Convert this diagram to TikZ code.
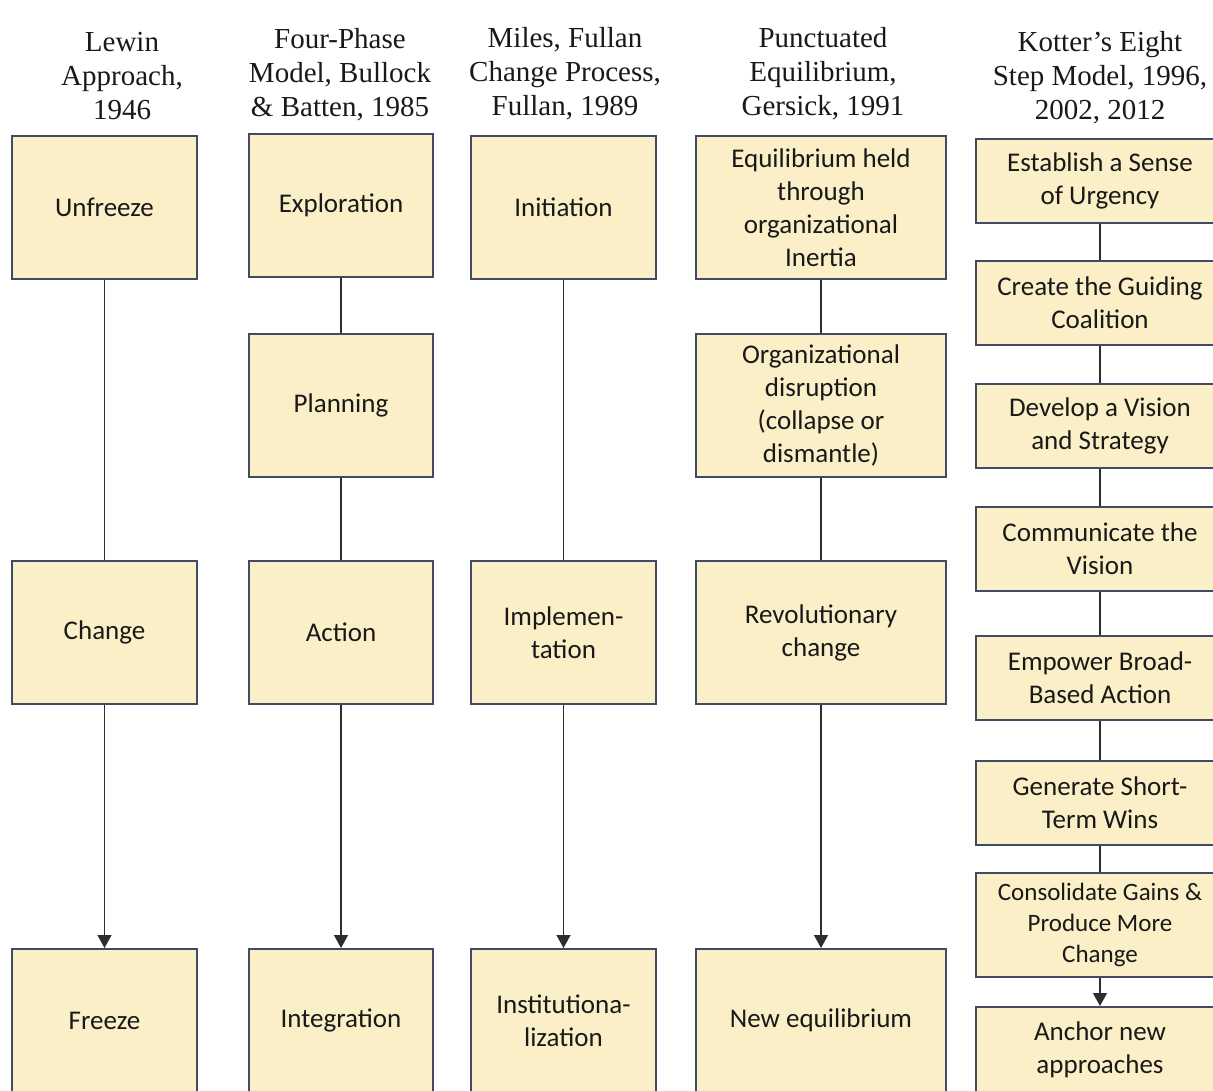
\documentclass[tikz,border=0pt]{standalone}
\usepackage{fontspec}
\setmainfont{Liberation Serif}
\newfontfamily\boxfont{Carlito}
\usetikzlibrary{arrows.meta}
\definecolor{boxfill}{HTML}{FBEFC7}
\definecolor{boxline}{HTML}{434A63}
\definecolor{conn}{HTML}{2E2E2E}
\begin{document}
\begin{tikzpicture}[x=1pt,y=-1pt,
  box/.style={draw=boxline, fill=boxfill, line width=2pt, inner sep=0pt, align=center,
    font=\boxfont\fontsize{27}{33}\selectfont, text=black!90},
  head/.style={align=center, font=\fontsize{29}{34}\selectfont, text=black!90},
  colA/.style={minimum width=185pt},
  colB/.style={minimum width=184pt},
  colC/.style={minimum width=185pt},
  colD/.style={minimum width=250pt},
  colE/.style={minimum width=248pt},
  tall/.style={minimum height=143pt},
  link/.style={draw=conn, line width=1.3pt},
  arrowlink/.style={link, -{Triangle[width=14pt,length=13pt]}}
]
\useasboundingbox (0,0) rectangle (1213,1090);
\fill[white] (0,0) rectangle (1213,1090);
\clip (0,0) rectangle (1213,1090);

% headers
\node[head] (h1) at (122,76) {Lewin\\Approach,\\1946};
\node[head] (h2) at (340,75) {Four-Phase\\Model, Bullock\\\& Batten, 1985};
\node[head] (h3) at (565,73.5) {Miles, Fullan\\Change Process,\\Fullan, 1989};
\node[head] (h4) at (823,73.5) {Punctuated\\Equilibrium,\\Gersick, 1991};
\node[head] (h5) at (1100,78) {Kotter’s Eight\\Step Model, 1996,\\2002, 2012};

% column 1
\node[box,colA,tall] (unfreeze) at (104.5,207.5) {Unfreeze};
\node[box,colA,tall] (change) at (104.5,632.5) {Change};
\node[box,colA,tall] (freeze) at (104.5,1020.5) {Freeze};

% column 2
\node[box,colB,tall] (explore) at (341,205.5) {Exploration};
\node[box,colB,tall] (plan) at (341,405.5) {Planning};
\node[box,colB,tall] (action) at (341,632.5) {Action};
\node[box,colB,tall] (integ) at (341,1020.5) {Integration};

% column 3
\node[box,colC,tall] (init) at (563.5,207.5) {Initiation};
\node[box,colC,tall] (impl) at (563.5,632.5) {Implemen-\\tation};
\node[box,colC,tall] (inst) at (563.5,1020.5) {Institutiona-\\lization};

% column 4
\node[box,colD,tall] (equi) at (821,207.5) {Equilibrium held\\through\\organizational\\Inertia};
\node[box,colD,tall] (disr) at (821,405.5) {Organizational\\disruption\\(collapse or\\dismantle)};
\node[box,colD,tall] (revo) at (821,632.5) {Revolutionary\\change};
\node[box,colD,tall] (neweq) at (821,1020.5) {New equilibrium};

% column 5
\node[box,colE,minimum height=84pt] (k1) at (1100,181) {Establish a Sense\\of Urgency};
\node[box,colE,minimum height=84pt] (k2) at (1100,303) {Create the Guiding\\Coalition};
\node[box,colE,minimum height=84pt] (k3) at (1100,426) {Develop a Vision\\and Strategy};
\node[box,colE,minimum height=84pt] (k4) at (1100,549) {Communicate the\\Vision};
\node[box,colE,minimum height=84pt] (k5) at (1100,677.5) {Empower Broad-\\Based Action};
\node[box,colE,minimum height=84pt] (k6) at (1100,803) {Generate Short-\\Term Wins};
\node[box,colE,minimum height=104pt,font=\boxfont\fontsize{25}{31}\selectfont] (k7) at (1100,925) {Consolidate Gains \&\\Produce More\\Change};
\node[box,colE,minimum height=86pt] (k8) at (1100,1050) {Anchor new\\approaches};

% connectors
\draw[link] (unfreeze) -- (change);
\draw[arrowlink] (change) -- (freeze);
\draw[link] (explore) -- (plan);
\draw[link] (plan) -- (action);
\draw[arrowlink] (action) -- (integ);
\draw[link] (init) -- (impl);
\draw[arrowlink] (impl) -- (inst);
\draw[link] (equi) -- (disr);
\draw[link] (disr) -- (revo);
\draw[arrowlink] (revo) -- (neweq);
\draw[link] (k1) -- (k2);
\draw[link] (k2) -- (k3);
\draw[link] (k3) -- (k4);
\draw[link] (k4) -- (k5);
\draw[link] (k5) -- (k6);
\draw[link] (k6) -- (k7);
\draw[arrowlink] (k7) -- (k8);
\end{tikzpicture}
\end{document}
